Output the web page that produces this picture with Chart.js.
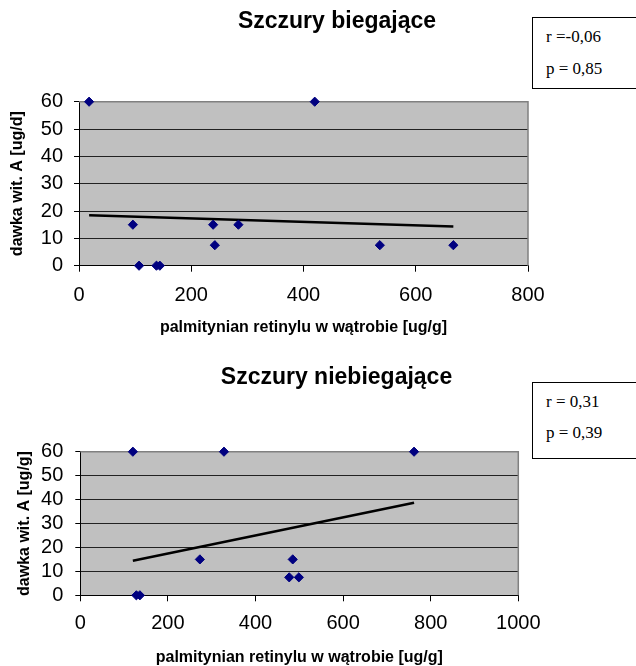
<!DOCTYPE html>
<html><head><meta charset="utf-8">
<script src="https://cdn.jsdelivr.net/npm/chart.js@4/dist/chart.umd.min.js"></script>
<style>
html{margin:0;padding:0;overflow:hidden;}
body{margin:0;padding:0;background:#fff;width:636px;height:666px;overflow:hidden;position:relative;}
.wrap{position:absolute;left:0;width:636px;}
canvas{display:block;}
.stat{position:absolute;left:532px;width:160px;border:1px solid #000;background:#fff;font-family:"Liberation Serif","Times New Roman",serif;font-size:17px;color:#000;box-sizing:border-box;}
.stat span{position:absolute;left:13px;white-space:nowrap;line-height:17px;}
</style></head>
<body>
<div class="wrap" style="top:0;height:340px"><canvas id="c1" width="636" height="340"></canvas></div>
<div class="wrap" style="top:340px;height:326px"><canvas id="c2" width="636" height="326"></canvas></div>
<div class="stat" style="top:17px;height:72px"><span style="top:9.5px">r =-0,06</span><span style="top:41.5px">p = 0,85</span></div>
<div class="stat" style="top:382px;height:77px"><span style="top:9.5px">r = 0,31</span><span style="top:40.5px">p = 0,39</span></div>
<script>
// ---- data ----
const titleRun = 'Szczury biegające';
const titleSed = 'Szczury niebiegające';
const xLabel = 'palmitynian retinylu w wątrobie [ug/g]';
const yLabelRun = 'dawka wit. A [ug/d]';
const yLabelSed = 'dawka wit. A [ug/g]';

const runX = [18, 96, 107, 138, 144, 239, 242, 284, 420, 536, 667];
const runY = [60, 15, 0, 0, 0, 15, 7.5, 15, 60, 7.5, 7.5];
const runTrendX = [18, 667];
const runTrendY = [18.5, 14.3];

const sedX = [120, 128, 136, 273, 328, 477, 485, 499, 762];
const sedY = [60, 0, 0, 15, 60, 7.5, 15, 7.5, 60];
const sedTrendX = [120, 762];
const sedTrendY = [14.4, 38.7];

const yTicks = [0, 10, 20, 30, 40, 50, 60];
const xMaxRun = 800, xMaxSed = 1000, xStep = 200;

// ---- drawing ----
const FAM = '"Liberation Sans", Arial, sans-serif';
const pts = (xs, ys) => xs.map((x, i) => ({x: x, y: ys[i]}));

const framePlugin = {
  id: 'frame',
  beforeDraw(chart, args, o) {
    const {ctx, chartArea: a} = chart;
    ctx.save();
    ctx.fillStyle = '#c0c0c0';
    ctx.fillRect(a.left, a.top, a.right - a.left, a.bottom - a.top);
    ctx.restore();
  },
  beforeDatasetsDraw(chart) {
    const {ctx, chartArea: a} = chart;
    ctx.save();
    ctx.strokeStyle = '#808080';
    ctx.lineWidth = 1.5;
    ctx.beginPath();
    ctx.moveTo(a.left, a.top);
    ctx.lineTo(a.right, a.top);
    ctx.lineTo(a.right, a.bottom);
    ctx.stroke();
    ctx.restore();
  },
  afterDraw(chart, args, o) {
    const ctx = chart.ctx;
    ctx.save();
    ctx.font = 'bold 23px ' + FAM;
    ctx.fillStyle = '#000';
    ctx.textAlign = 'center';
    ctx.textBaseline = 'middle';
    ctx.fillText(o.text, o.x, o.y);
    ctx.restore();
  }
};

function makeChart(id, cfg) {
  const tickFont = {family: FAM, size: 20, lineHeight: 1};
  const axTitleFont = {family: FAM, size: 16, weight: 'bold', lineHeight: 1};
  return new Chart(document.getElementById(id), {
    type: 'scatter',
    data: {
      datasets: [
        {
          type: 'line',
          data: pts(cfg.tx, cfg.ty),
          borderColor: '#000',
          borderWidth: 2.5,
          pointRadius: 0,
          fill: false,
          clip: false,
          order: 2
        },
        {
          data: pts(cfg.xs, cfg.ys),
          pointStyle: 'rectRot',
          pointRadius: 4.6,
          backgroundColor: '#000080',
          borderColor: '#000080',
          borderWidth: 1,
          clip: false,
          order: 1
        }
      ]
    },
    options: {
      responsive: false,
      animation: false,
      events: [],
      layout: {padding: cfg.pad},
      plugins: {
        legend: {display: false},
        tooltip: {enabled: false},
        title: {display: false},
        frame: {text: cfg.title, x: cfg.titleX, y: cfg.titleY}
      },
      scales: {
        x: {
          type: 'linear', min: 0, max: cfg.xMax,
          ticks: {stepSize: xStep, font: tickFont, color: '#000', padding: cfg.xTickPad, maxRotation: 0,
                  callback: v => String(v)},
          grid: {drawOnChartArea: false, drawTicks: true, tickLength: 6, color: '#000'},
          border: {color: '#000', width: 1},
          title: {display: true, text: xLabel, font: axTitleFont, color: '#000', padding: {top: 0, bottom: cfg.xTitlePad}},
          afterFit(s) { s.height = cfg.xH; }
        },
        y: {
          type: 'linear', min: 0, max: 60,
          afterBuildTicks(s) { s.ticks = yTicks.map(v => ({value: v})); },
          ticks: {font: tickFont, color: '#000', padding: cfg.yTickPad, callback: v => String(v)},
          grid: {
            color: c => (c.tick && c.tick.value === 60) ? '#808080' : '#222',
            tickColor: '#000', tickLength: 5, lineWidth: 1
          },
          border: {color: '#000', width: 1},
          title: {display: true, text: cfg.yLabel, font: axTitleFont, color: '#000', padding: {top: cfg.yTitlePad, bottom: 0}},
          afterFit(s) { s.width = cfg.yW; }
        }
      }
    },
    plugins: [framePlugin]
  });
}

makeChart('c1', {
  xs: runX, ys: runY, tx: runTrendX, ty: runTrendY,
  xMax: xMaxRun, yLabel: yLabelRun, title: titleRun, titleX: 337, titleY: 22,
  pad: {left: 0, top: 101.7, right: 108, bottom: 0},
  xH: 74.3, yW: 79, xTickPad: 14, yTickPad: 11, xTitlePad: 4, yTitlePad: 10
});
makeChart('c2', {
  xs: sedX, ys: sedY, tx: sedTrendX, ty: sedTrendY,
  xMax: xMaxSed, yLabel: yLabelSed, title: titleSed, titleX: 336.5, titleY: 38,
  pad: {left: 0, top: 111.7, right: 117.7, bottom: 0},
  xH: 70.7, yW: 80.3, xTickPad: 12, yTickPad: 12, xTitlePad: 0, yTitlePad: 17
});
</script>
</body></html>
